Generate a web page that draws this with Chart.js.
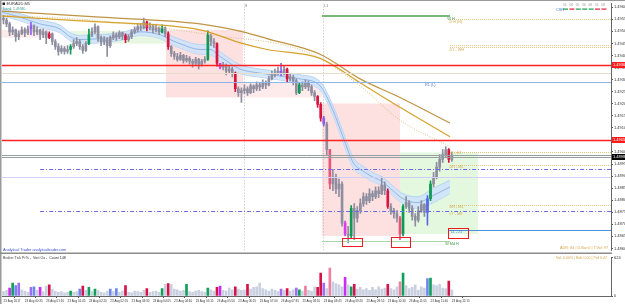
<!DOCTYPE html>
<html>
<head>
<meta charset="utf-8">
<script src="https://cdn.jsdelivr.net/npm/chart.js@4.4.0/dist/chart.umd.min.js"></script>
<style>
  html, body { margin: 0; padding: 0; background: #fff; }
  #wrap { position: relative; width: 625px; height: 304px; overflow: hidden; }
  #main { position: absolute; left: 0; top: 0; }
  #vol { position: absolute; left: 0; top: 254px; }
</style>
</head>
<body>
<div id="wrap">
  <canvas id="main" width="625" height="254"></canvas>
  <canvas id="vol" width="625" height="50"></canvas>
</div>
<script>
// ---- candles (EURAUD M5) ----
const firstOpen = 1.49555;
const closes = [
  1.49547, 1.49531, 1.49498, 1.49506, 1.49478, 1.49490, 1.49506, 1.49494, 1.49510, 1.49523,
  1.49498, 1.49506, 1.49486, 1.49498, 1.49474, 1.49490, 1.49458, 1.49437, 1.49417, 1.49429,
  1.49417, 1.49425, 1.49437, 1.49449, 1.49458, 1.49437, 1.49421, 1.49449, 1.49486, 1.49498,
  1.49519, 1.49474, 1.49458, 1.49466, 1.49441, 1.49474, 1.49486, 1.49478, 1.49494, 1.49482,
  1.49466, 1.49478, 1.49498, 1.49506, 1.49519, 1.49515, 1.49539, 1.49515, 1.49523, 1.49506,
  1.49515, 1.49498, 1.49515, 1.49490, 1.49437, 1.49409, 1.49396, 1.49384, 1.49401, 1.49380,
  1.49388, 1.49376, 1.49368, 1.49384, 1.49364, 1.49376, 1.49384, 1.49486, 1.49458, 1.49449,
  1.49368, 1.49352, 1.49360, 1.49335, 1.49344, 1.49327, 1.49262, 1.49246, 1.49254, 1.49262,
  1.49246, 1.49274, 1.49262, 1.49278, 1.49270, 1.49287, 1.49278, 1.49303, 1.49319, 1.49327,
  1.49335, 1.49327, 1.49344, 1.49303, 1.49311, 1.49295, 1.49246, 1.49278, 1.49270, 1.49287,
  1.49270, 1.49246, 1.49230, 1.49197, 1.49140, 1.49116, 1.49010, 1.48867, 1.48896, 1.48847,
  1.48867, 1.48705, 1.48660, 1.48652, 1.48766, 1.48725, 1.48757, 1.48786, 1.48815, 1.48798,
  1.48827, 1.48815, 1.48839, 1.48827, 1.48863, 1.48839, 1.48774, 1.48757, 1.48745, 1.48725,
  1.48660, 1.48774, 1.48790, 1.48766, 1.48733, 1.48717, 1.48757, 1.48782, 1.48749, 1.48806,
  1.48867, 1.48896, 1.48937, 1.48969, 1.48989, 1.49010, 1.48969, 1.48985
];
const highs = [
  1.49567, 1.49555, 1.49539, 1.49519, 1.49510, 1.49502, 1.49519, 1.49515, 1.49523, 1.49539,
  1.49527, 1.49519, 1.49510, 1.49510, 1.49502, 1.49498, 1.49494, 1.49466, 1.49449, 1.49441,
  1.49437, 1.49441, 1.49445, 1.49466, 1.49474, 1.49466, 1.49445, 1.49458, 1.49510, 1.49515,
  1.49531, 1.49523, 1.49482, 1.49478, 1.49474, 1.49482, 1.49498, 1.49494, 1.49502, 1.49498,
  1.49490, 1.49486, 1.49506, 1.49519, 1.49531, 1.49531, 1.49555, 1.49543, 1.49535, 1.49527,
  1.49527, 1.49519, 1.49527, 1.49519, 1.49498, 1.49441, 1.49417, 1.49409, 1.49413, 1.49405,
  1.49401, 1.49396, 1.49384, 1.49392, 1.49388, 1.49384, 1.49396, 1.49502, 1.49490, 1.49470,
  1.49453, 1.49368, 1.49372, 1.49364, 1.49356, 1.49352, 1.49331, 1.49270, 1.49266, 1.49278,
  1.49270, 1.49283, 1.49278, 1.49291, 1.49287, 1.49299, 1.49295, 1.49315, 1.49335, 1.49344,
  1.49352, 1.49368, 1.49356, 1.49348, 1.49323, 1.49319, 1.49303, 1.49287, 1.49291, 1.49299,
  1.49295, 1.49278, 1.49254, 1.49234, 1.49205, 1.49148, 1.49124, 1.49010, 1.48928, 1.48908,
  1.48888, 1.48876, 1.48713, 1.48692, 1.48778, 1.48786, 1.48774, 1.48806, 1.48831, 1.48827,
  1.48847, 1.48839, 1.48855, 1.48855, 1.48896, 1.48876, 1.48847, 1.48786, 1.48766, 1.48757,
  1.48733, 1.48782, 1.48815, 1.48798, 1.48778, 1.48745, 1.48774, 1.48798, 1.48786, 1.48819,
  1.48880, 1.48916, 1.48957, 1.48989, 1.49010, 1.49022, 1.49014, 1.48998
];
const lows = [
  1.49531, 1.49519, 1.49482, 1.49486, 1.49458, 1.49466, 1.49486, 1.49478, 1.49486, 1.49486,
  1.49482, 1.49486, 1.49466, 1.49474, 1.49449, 1.49470, 1.49445, 1.49425, 1.49401, 1.49409,
  1.49405, 1.49409, 1.49405, 1.49429, 1.49441, 1.49425, 1.49409, 1.49417, 1.49445, 1.49478,
  1.49490, 1.49458, 1.49441, 1.49445, 1.49396, 1.49433, 1.49466, 1.49462, 1.49470, 1.49466,
  1.49453, 1.49458, 1.49470, 1.49490, 1.49498, 1.49502, 1.49510, 1.49502, 1.49506, 1.49494,
  1.49498, 1.49486, 1.49494, 1.49478, 1.49425, 1.49396, 1.49384, 1.49376, 1.49380, 1.49368,
  1.49372, 1.49364, 1.49352, 1.49360, 1.49344, 1.49356, 1.49368, 1.49380, 1.49441, 1.49433,
  1.49356, 1.49344, 1.49340, 1.49319, 1.49327, 1.49311, 1.49250, 1.49230, 1.49205, 1.49242,
  1.49234, 1.49242, 1.49246, 1.49254, 1.49254, 1.49262, 1.49262, 1.49274, 1.49299, 1.49311,
  1.49319, 1.49315, 1.49319, 1.49287, 1.49295, 1.49278, 1.49238, 1.49242, 1.49254, 1.49262,
  1.49254, 1.49234, 1.49213, 1.49185, 1.49128, 1.49108, 1.48989, 1.48847, 1.48839, 1.48827,
  1.48815, 1.48692, 1.48652, 1.48623, 1.48644, 1.48636, 1.48709, 1.48745, 1.48774, 1.48782,
  1.48790, 1.48798, 1.48806, 1.48810, 1.48823, 1.48823, 1.48766, 1.48741, 1.48725, 1.48709,
  1.48636, 1.48652, 1.48766, 1.48749, 1.48717, 1.48692, 1.48709, 1.48749, 1.48733, 1.48696,
  1.48798, 1.48855, 1.48888, 1.48920, 1.48957, 1.48977, 1.48957, 1.48961
];
const volumes = [
  70, 90, 130, 210, 170, 210, 100, 80, 60, 140,
  150, 90, 140, 70, 160, 180, 110, 80, 60, 70,
  50, 60, 80, 60, 70, 110, 160, 90, 140, 70,
  110, 90, 60, 50, 80, 110, 70, 120, 60, 80,
  170, 60, 50, 80, 70, 60, 90, 120, 60, 70,
  80, 60, 120, 190, 200, 190, 110, 100, 80, 90,
  190, 70, 60, 80, 90, 70, 60, 130, 100, 80,
  140, 160, 90, 80, 130, 100, 150, 110, 90, 100,
  190, 110, 140, 150, 210, 120, 100, 80, 110, 90,
  70, 110, 90, 120, 80, 100, 130, 100, 80, 160,
  90, 80, 150, 140, 370, 210, 120, 450, 230, 200,
  180, 150, 300, 180, 150, 190, 110, 140, 100, 120,
  90, 140, 100, 150, 110, 130, 190, 120, 100, 150,
  230, 370, 170, 120, 140, 180, 90, 150, 130, 280,
  290, 180, 170, 190, 130, 120, 240, 100
];
// bar type from the volume-spread indicator (g green, r red, k pink, m magenta, p purple, b blue)
const barKinds = {
  2: 'm', 3: 'g', 4: 'b', 5: 'p', 9: 'p', 10: 'b', 12: 'm', 15: 'r', 22: 'g', 25: 'b', 26: 'r',
  28: 'g', 30: 'g', 35: 'b', 37: 'b', 40: 'r', 47: 'r', 52: 'g', 54: 'r', 60: 'g', 67: 'g',
  70: 'r', 71: 'm', 76: 'r', 80: 'r', 91: 'p', 93: 'r', 96: 'p', 97: 'g', 99: 'k', 103: 'r',
  104: 'r', 105: 'p', 107: 'k', 112: 'm', 114: 'g', 115: 'r', 126: 'r', 130: 'k', 131: 'g',
  139: 'b', 140: 'g', 146: 'r'
};
// bars whose candle is painted in its signal colour (the rest stay grey on the price panel)
const paintedCandles = [9, 15, 22, 28, 31, 40, 47, 52, 54, 67, 70, 71, 76, 91, 93, 97, 103, 104, 105,
  107, 112, 114, 126, 130, 131, 139, 140, 146];

// ---- moving averages (bar index / price) ----
const bandX = [-0.5, 5.4, 12, 18.5, 21.8, 25.1, 31.6, 38.2, 44.8, 51.3, 54.6, 57.9, 64.4, 67.7, 71,
  77.5, 84.1, 90.7, 97.2, 103.8, 108, 111.3, 114.6, 117.9, 121.1, 124.4, 127.7, 131, 135.6, 140.8, 146.4];
const bandMid = [1.49580, 1.49559, 1.49531, 1.49510, 1.49478, 1.49466, 1.49470, 1.49478, 1.49498, 1.49486,
  1.49466, 1.49449, 1.49425, 1.49425, 1.49396, 1.49344, 1.49327, 1.49315, 1.49303, 1.49274, 1.49173,
  1.49063, 1.48957, 1.48920, 1.48896, 1.48876, 1.48839, 1.48806, 1.48790, 1.48819, 1.48855];
const bandHalf = [0.00015, 0.00015, 0.00016, 0.00016, 0.00017, 0.00017, 0.00017, 0.00016, 0.00015, 0.00016,
  0.00017, 0.00018, 0.00020, 0.00022, 0.00020, 0.00018, 0.00017, 0.00017, 0.00017, 0.00018, 0.00020,
  0.00022, 0.00022, 0.00020, 0.00019, 0.00019, 0.00020, 0.00021, 0.00024, 0.00030, 0.00028];
const maX = [-0.5, 31.6, 64.4, 78.5, 86.4, 103.8, 116.9, 130, 146.4];
const maSlow = [1.49584, 1.49559, 1.49531, 1.49498, 1.49470, 1.49405, 1.49303, 1.49226, 1.49120];
const maMid = [1.49563, 1.49539, 1.49506, 1.49449, 1.49425, 1.49388, 1.49287, 1.49185, 1.49063];
const emaX = [-0.5, 28.4, 67.7, 100.5, 116.9, 130, 146.4];
const emaDot = [1.49567, 1.49547, 1.49486, 1.49409, 1.49274, 1.49132, 1.49022];

// ---- zones, levels ----
// [fromBar, toBar, topPrice, bottomPrice, kind]
const zones = [
  [-0.5, 14.6, 1.49506, 1.49474, 'pinkLight'],
  [21.8, 53.6, 1.49502, 1.49449, 'greenLight'],
  [53.3, 78.5, 1.49506, 1.49226, 'pink'],
  [78.5, 104.4, 1.49287, 1.49226, 'pinkLight'],
  [104.4, 130, 1.49201, 1.48652, 'pink'],
  [130, 155.6, 1.48998, 1.48660, 'green']
];
const boxMarks = [[111, 117.5, 1.48644, 1.48611], [127, 133.3, 1.48648, 1.48607], [145.7, 152.3, 1.48684, 1.48644]];
const sessionBars = [78.9, 104.8];
const sessionNames = ['8', 'L1'];
const levelPrices = [1.49360, 1.49327, 1.49291, 1.49051, 1.48989, 1.48981, 1.48896];
const levelKinds = ['red', 'beige', 'blue', 'red', 'gray', 'gray', 'lavender'];
const pivotPrices = [1.48928, 1.48757];
const dailyPrices = [1.49551, 1.49445, 1.49437, 1.48998, 1.48945, 1.48782];
const weekHigh = 1.49563, weekMid = 1.48631, weekFrom = 104.4, weekTo = 146.4;
const supportPrice = 1.48675, supportFrom = 146;
const priceTags = [[1.49360, '#ff1a1a'], [1.49051, '#ff1a1a'], [1.48981, '#000000']];
const notes = [
  ['W H', 145.5, 1.49553, 'green'], ['D H (H)', 146.2, 1.49540, 'gold'], ['D1 - WH', 146.2, 1.49425, 'gold'],
  ['R1 (L)', 138.2, 1.49278, 'blue'], ['R - H1', 146.6, 1.48996, 'gold'], ['DR - ML', 146.2, 1.48937, 'gold'],
  ['DR - M1', 146.2, 1.48774, 'gold'], ['L7 - M8', 146.2, 1.48745, 'gold'], ['11 - 21', 146.6, 1.48668, 'blue'],
  ['W Md H', 144.8, 1.48619, 'green']
];

// ---- axes ----
const priceTicks = [1.4960, 1.4955, 1.4950, 1.4945, 1.4940, 1.4935, 1.4930, 1.4925, 1.4920, 1.4915, 1.4910,
  1.4905, 1.4900, 1.4895, 1.4890, 1.4885, 1.4880, 1.4875, 1.4870, 1.4865, 1.4860];
const timeLabels = ['23 Aug 2017', '23 Aug 00:35', '23 Aug 01:10', '23 Aug 01:45', '23 Aug 02:20', '23 Aug 02:55',
  '23 Aug 03:30', '23 Aug 04:05', '23 Aug 04:40', '23 Aug 05:15', '23 Aug 05:50', '23 Aug 06:25', '23 Aug 07:00',
  '23 Aug 07:35', '23 Aug 08:10', '23 Aug 08:45', '23 Aug 09:20', '23 Aug 09:55', '23 Aug 10:30', '23 Aug 11:05',
  '23 Aug 11:40', '23 Aug 12:15'];
const timeStep = 7;
const volTicks = [0, 624];

const candleColor = { n: '#8e8ea0', g: '#0c9a55', r: '#d9143f', k: '#e8557a', m: '#d43ee8', p: '#8f5cf0', b: '#5468e8' };
const volColor = { n: '#c9d1e1', g: '#10a05c', r: '#d3134a', k: '#f07fa0', m: '#c92ef0', p: '#a06cf2', b: '#6f86f0' };
const zoneColor = { pink: '#fde0e0', pinkLight: '#fdeaea', green: '#e3f8df', greenLight: '#e8f7e2' };
const levelStyle = {
  red: ['#ff2020', 1.5, []], beige: ['#e4ddcc', 1, []], blue: ['#8ab6ea', 1, []],
  gray: ['#97a0a0', 1, []], lavender: ['#cfd0f4', 1, []]
};
const noteColor = { green: '#3d9a45', gold: '#d6aa55', blue: '#4a78d0' };
const FONT = 'Liberation Sans';

const X_MIN = -0.49, X_MAX = 199.18;
const idx = closes.map((_, i) => i);
const opens = idx.map(i => i === 0 ? firstOpen : closes[i - 1]);
const kindOf = i => barKinds[i] || 'n';
const candleKind = i => paintedCandles.includes(i) ? kindOf(i) : 'n';

function hline(ctx, area, y, x0, x1, color, width, dash) {
  ctx.save();
  ctx.beginPath();
  ctx.rect(area.left, area.top, area.right - area.left, area.bottom - area.top);
  ctx.clip();
  ctx.strokeStyle = color;
  ctx.lineWidth = width;
  ctx.setLineDash(dash);
  const yy = Math.round(y) + (width % 2 ? 0.5 : 0);
  ctx.beginPath();
  ctx.moveTo(x0, yy);
  ctx.lineTo(x1, yy);
  ctx.stroke();
  ctx.restore();
}

function text(ctx, s, x, y, color, size, align) {
  ctx.save();
  ctx.font = (size || 4) + 'px "' + FONT + '"';
  ctx.fillStyle = color;
  ctx.textAlign = align || 'left';
  ctx.textBaseline = 'middle';
  ctx.fillText(s, x, y);
  ctx.restore();
}

const overlay = {
  id: 'overlay',
  beforeDatasetsDraw(chart) {
    const { ctx, chartArea: a, scales: { x, y } } = chart;
    ctx.save();
    ctx.beginPath();
    ctx.rect(a.left, a.top, a.right - a.left, a.bottom - a.top);
    ctx.clip();
    zones.forEach(([i0, i1, p0, p1, k]) => {
      const x0 = x.getPixelForValue(i0), x1 = x.getPixelForValue(i1);
      const y0 = y.getPixelForValue(p0), y1 = y.getPixelForValue(p1);
      ctx.fillStyle = zoneColor[k];
      ctx.fillRect(x0, y0, x1 - x0, y1 - y0);
    });
    ctx.strokeStyle = '#b8b8b8';
    ctx.lineWidth = 1;
    ctx.setLineDash([1, 2]);
    sessionBars.forEach(b => {
      const xx = Math.round(x.getPixelForValue(b)) + 0.5;
      ctx.beginPath();
      ctx.moveTo(xx, a.top);
      ctx.lineTo(xx, a.bottom);
      ctx.stroke();
    });
    ctx.restore();
    sessionBars.forEach((b, k) => text(ctx, sessionNames[k], x.getPixelForValue(b) + 1, a.top + 3, '#777', 3.6));
  },
  afterDatasetsDraw(chart) {
    const { ctx, chartArea: a, scales: { x, y } } = chart;
    levelPrices.forEach((p, k) => {
      const [c, w, d] = levelStyle[levelKinds[k]];
      hline(ctx, a, y.getPixelForValue(p), a.left, a.right, c, w, d);
    });
    pivotPrices.forEach(p => hline(ctx, a, y.getPixelForValue(p), x.getPixelForValue(12), a.right, '#6a6ae6', 1, [4, 2, 1, 2]));
    dailyPrices.forEach(p => hline(ctx, a, y.getPixelForValue(p), x.getPixelForValue(146.4), a.right, '#e3c683', 1, [1, 1]));
    hline(ctx, a, y.getPixelForValue(weekHigh), x.getPixelForValue(weekFrom), x.getPixelForValue(weekTo), '#79b879', 2, []);
    hline(ctx, a, y.getPixelForValue(weekMid), x.getPixelForValue(weekFrom), x.getPixelForValue(weekTo), '#a9d6a9', 1, []);
    hline(ctx, a, y.getPixelForValue(supportPrice), x.getPixelForValue(supportFrom), a.right, '#4d8fdc', 1, []);
    ctx.save();
    ctx.strokeStyle = '#ee1c1c';
    ctx.lineWidth = 1;
    boxMarks.forEach(([i0, i1, p0, p1]) => {
      const x0 = Math.round(x.getPixelForValue(i0)) + 0.5, x1 = Math.round(x.getPixelForValue(i1)) + 0.5;
      const y0 = Math.round(y.getPixelForValue(p0)) + 0.5, y1 = Math.round(y.getPixelForValue(p1)) + 0.5;
      ctx.strokeRect(x0, y0, x1 - x0, y1 - y0);
    });
    ctx.restore();
    notes.forEach(([s, b, p, c]) => text(ctx, s, x.getPixelForValue(b), y.getPixelForValue(p), noteColor[c], 3.8));
  },
  afterDraw(chart) {
    const { ctx, chartArea: a, scales: { y } } = chart;
    priceTags.forEach(([p, c]) => {
      const yy = Math.round(y.getPixelForValue(p));
      ctx.fillStyle = c;
      ctx.fillRect(a.right + 1, yy - 3, 14, 6);
      text(ctx, p.toFixed(5), a.right + 2, yy, '#fff', 4);
    });
    // window frame
    ctx.fillStyle = '#9a9a9a';
    ctx.fillRect(0, 0, 625, 1);
    ctx.fillRect(0, 0, 1.5, 254);
    ctx.fillStyle = '#8c8c8c';
    ctx.fillRect(0, 252.5, a.right + 1, 1.5);
    // fixed captions
    ctx.fillStyle = '#222';
    ctx.fillRect(2.5, 2.5, 2.5, 2.5);
    text(ctx, 'EURAUD,M5', 6.5, 4, '#333', 4);
    text(ctx, 'Trend: 1.49580', 2.5, 9, '#3c9a8c', 3.4);
    text(ctx, 'Analytical Trader analyticaltrader.com', 3, 249.5, '#3a4fd0', 3.8);
    text(ctx, 'ADR: 84 | D.Bar:0 | T.Vol: 97', 608, 248, '#d6a54a', 3.8, 'right');
    text(ctx, 'CSR', 556, 9.5, '#4a78d0', 3.8);
    const legend = [['05', '#18a050'], ['06', '#e01c3c'], ['05', '#18a050'], ['06', '#18a050'], ['08', '#18a050'], ['05', '#e01c3c'], ['08', '#e01c3c']];
    legend.forEach(([s, c], k) => {
      const lx = 563 + k * 6.4;
      text(ctx, s, lx, 5.5, '#999', 3.2);
      ctx.fillStyle = c;
      ctx.fillRect(lx, 8.5, 5, 1.2);
    });
  }
};

Chart.defaults.font.family = FONT;
Chart.defaults.animation = false;

new Chart(document.getElementById('main'), {
  type: 'bar',
  data: {
    datasets: [
      {
        type: 'line', data: bandX.map((v, k) => ({ x: v, y: bandMid[k] + bandHalf[k] })),
        borderColor: '#b6d4f3', borderWidth: 1, backgroundColor: 'rgba(204,226,250,0.85)', fill: '+1',
        pointRadius: 0, cubicInterpolationMode: 'monotone', order: 30
      },
      {
        type: 'line', data: bandX.map((v, k) => ({ x: v, y: bandMid[k] - bandHalf[k] })),
        borderColor: '#b6d4f3', borderWidth: 1, fill: false,
        pointRadius: 0, cubicInterpolationMode: 'monotone', order: 30
      },
      {
        type: 'line', data: bandX.map((v, k) => ({ x: v, y: bandMid[k] })),
        borderColor: '#82acdf', borderWidth: 0.8, fill: false,
        pointRadius: 0, cubicInterpolationMode: 'monotone', order: 29
      },
      {
        type: 'bar', data: idx.map(i => ({ x: i, y: [lows[i], highs[i]] })),
        backgroundColor: idx.map(i => candleColor[candleKind(i)]), barThickness: 1, grouped: false, order: 10
      },
      {
        type: 'bar', data: idx.map(i => ({ x: i, y: [opens[i], closes[i]] })),
        backgroundColor: idx.map(i => candleColor[candleKind(i)]), barThickness: 2, minBarLength: 1, grouped: false, order: 9
      },
      {
        type: 'line', data: emaX.map((v, k) => ({ x: v, y: emaDot[k] })),
        borderColor: '#dcc089', borderWidth: 1, borderDash: [1, 1.5], fill: false,
        pointRadius: 0, cubicInterpolationMode: 'monotone', order: 3
      },
      {
        type: 'line', data: maX.map((v, k) => ({ x: v, y: maMid[k] })),
        borderColor: '#d6a22c', borderWidth: 1.2, fill: false,
        pointRadius: 0, cubicInterpolationMode: 'monotone', order: 2
      },
      {
        type: 'line', data: maX.map((v, k) => ({ x: v, y: maSlow[k] })),
        borderColor: '#bf9442', borderWidth: 1.2, fill: false,
        pointRadius: 0, cubicInterpolationMode: 'monotone', order: 1
      }
    ]
  },
  options: {
    responsive: false,
    animation: false,
    layout: { padding: { left: 2, top: 1, right: 0, bottom: 1 } },
    plugins: { legend: { display: false }, tooltip: { enabled: false } },
    scales: {
      x: { type: 'linear', min: X_MIN, max: X_MAX, display: false, offset: false },
      y: {
        type: 'linear', position: 'right', min: 1.48591, max: 1.49616,
        afterBuildTicks: s => { s.ticks = priceTicks.map(v => ({ value: v })); },
        afterFit: s => { s.width = 14; },
        ticks: { font: { size: 4, family: FONT }, color: '#333', padding: 1, callback: v => v.toFixed(5) },
        grid: { drawOnChartArea: false, tickLength: 2, color: '#555' },
        border: { color: '#666', width: 1 }
      }
    }
  },
  plugins: [overlay]
});

const volCaptions = {
  id: 'volCaptions',
  afterDraw(chart) {
    const { ctx } = chart;
    ctx.fillStyle = '#9a9a9a';
    ctx.fillRect(0, 0, 1.5, 50);
    text(ctx, 'Broker Tick Pr% -  Vert Ox -  Count 148', 3, 4, '#333', 3.6);
    text(ctx, 'Vol: 0.00% | Bdir 0.00 | Prd 0.47', 607, 4, '#d6a54a', 3.6, 'right');
  }
};

new Chart(document.getElementById('vol'), {
  type: 'bar',
  data: {
    datasets: [{
      data: idx.map(i => ({ x: i, y: volumes[i] })),
      backgroundColor: idx.map(i => volColor[kindOf(i)]), barThickness: 2, grouped: false
    }]
  },
  options: {
    responsive: false,
    animation: false,
    layout: { padding: { left: 2, top: 3, right: 0, bottom: 0 } },
    plugins: { legend: { display: false }, tooltip: { enabled: false } },
    scales: {
      x: {
        type: 'linear', min: X_MIN, max: X_MAX, offset: false,
        afterBuildTicks: s => { s.ticks = timeLabels.map((_, k) => ({ value: k * timeStep })); },
        afterFit: s => { s.height = 8; },
        ticks: {
          font: { size: 3, family: FONT }, color: '#333', padding: 1, align: 'start', maxRotation: 0,
          autoSkip: false, callback: (v, k) => timeLabels[k]
        },
        grid: { drawOnChartArea: false, tickLength: 2, color: '#555' },
        border: { color: '#666', width: 1 }
      },
      y: {
        type: 'linear', position: 'right', min: 0, max: 624,
        afterBuildTicks: s => { s.ticks = volTicks.map(v => ({ value: v })); },
        afterFit: s => { s.width = 14; },
        ticks: { font: { size: 4, family: FONT }, color: '#333', padding: 1 },
        grid: { drawOnChartArea: false, tickLength: 2, color: '#555' },
        border: { color: '#666', width: 1 }
      }
    }
  },
  plugins: [volCaptions]
});
</script>
</body>
</html>
